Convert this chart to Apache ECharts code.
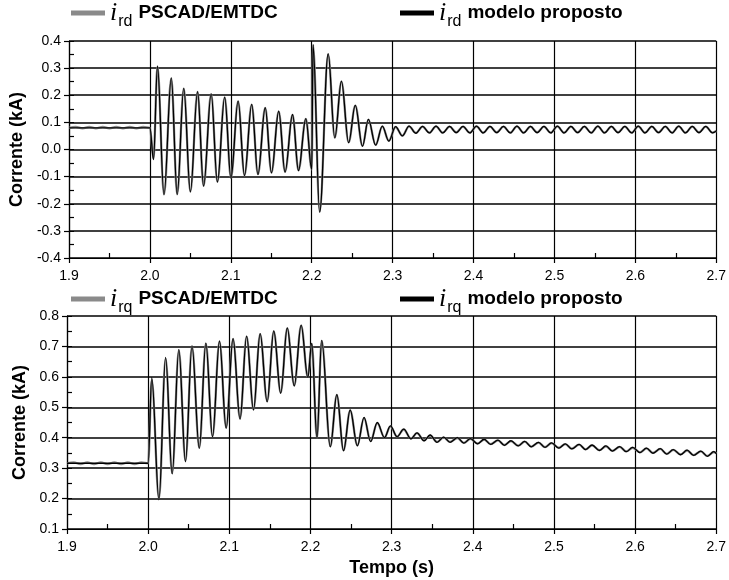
<!DOCTYPE html>
<html>
<head>
<meta charset="utf-8">
<script src="https://cdn.jsdelivr.net/npm/echarts@6/dist/echarts.min.js"></script>
<style>html,body{margin:0;padding:0;background:#fff}#c{width:729px;height:580px}</style>
</head>
<body>
<div id="c"></div>
<script>
// ---- axis ticks ----
const xTicks = [1.9, 2.0, 2.1, 2.2, 2.3, 2.4, 2.5, 2.6, 2.7];
const yTicksRd = [-0.4, -0.3, -0.2, -0.1, 0.0, 0.1, 0.2, 0.3, 0.4];
const yTicksRq = [0.1, 0.2, 0.3, 0.4, 0.5, 0.6, 0.7, 0.8];

// ---- pre-fault PSCAD ripple (time, s) ----
const tPre = [1.9, 1.9083, 1.9167, 1.925, 1.9333, 1.9417, 1.95, 1.9583, 1.9667, 1.975, 1.9833, 1.9917, 2.0];
const rdPscadPre = [0.080, 0.083, 0.078, 0.083, 0.078, 0.083, 0.078, 0.083, 0.078, 0.083, 0.078, 0.083, 0.080];
const rqPscadPre = [0.316, 0.319, 0.313, 0.319, 0.313, 0.319, 0.313, 0.319, 0.313, 0.319, 0.313, 0.319, 0.316];

// ---- i_rd (kA) : extremes ----
const tRd = [1.9, 2.0, 2.0044, 2.0093, 2.0174, 2.0264, 2.0337, 2.0418, 2.05, 2.0589, 2.0663, 2.0757, 2.0834, 2.0924,
  2.1001, 2.109, 2.1169, 2.1258, 2.1335, 2.1425, 2.1502, 2.1592, 2.167, 2.1763, 2.1836, 2.1927, 2.2, 2.2016,
  2.2098, 2.2203, 2.2285, 2.2367, 2.2456, 2.2538, 2.2627, 2.27, 2.279, 2.2872, 2.2953, 2.3036, 2.312, 2.3203,
  2.3286, 2.337, 2.3453, 2.3536, 2.362, 2.3703, 2.3786, 2.387, 2.3953, 2.4036, 2.412, 2.4203, 2.4286, 2.437,
  2.4453, 2.4536, 2.462, 2.4703, 2.4786, 2.487, 2.4953, 2.5036, 2.512, 2.5203, 2.5286, 2.537, 2.5453, 2.5536,
  2.562, 2.5703, 2.5786, 2.587, 2.5953, 2.6036, 2.612, 2.6203, 2.6286, 2.637, 2.6453, 2.6536, 2.662, 2.6703,
  2.6786, 2.687, 2.6953, 2.7];
const rdModelo = [0.080, 0.080, -0.037, 0.307, -0.166, 0.264, -0.166, 0.225, -0.156, 0.213, -0.135, 0.205, -0.120, 0.193,
  -0.105, 0.178, -0.096, 0.166, -0.092, 0.154, -0.086, 0.141, -0.083, 0.129, -0.078, 0.114, -0.074, 0.387,
  -0.231, 0.353, 0.043, 0.252, 0.025, 0.163, 0.012, 0.111, 0.016, 0.086, 0.031, 0.084, 0.050, 0.086,
  0.060, 0.085, 0.061, 0.086, 0.061, 0.085, 0.062, 0.085, 0.061, 0.086, 0.061, 0.085, 0.062, 0.085,
  0.061, 0.086, 0.061, 0.085, 0.062, 0.085, 0.061, 0.086, 0.061, 0.085, 0.062, 0.085, 0.061, 0.086,
  0.061, 0.085, 0.062, 0.085, 0.061, 0.086, 0.061, 0.085, 0.062, 0.085, 0.061, 0.086, 0.061, 0.085,
  0.062, 0.085, 0.061, 0.068];
const rdPscad = [0.080, 0.080, -0.034, 0.305, -0.165, 0.262, -0.165, 0.224, -0.155, 0.212, -0.134, 0.204, -0.119, 0.192,
  -0.104, 0.177, -0.095, 0.165, -0.091, 0.153, -0.085, 0.140, -0.082, 0.128, -0.077, 0.113, -0.073, 0.385,
  -0.229, 0.351, 0.044, 0.250, 0.026, 0.162, 0.013, 0.110, 0.017, 0.085, 0.032, 0.083, 0.051, 0.085,
  0.061, 0.084, 0.062, 0.085, 0.062, 0.084, 0.063, 0.084, 0.062, 0.085, 0.062, 0.084, 0.063, 0.084,
  0.062, 0.085, 0.062, 0.084, 0.063, 0.084, 0.062, 0.085, 0.062, 0.084, 0.063, 0.084, 0.062, 0.085,
  0.062, 0.084, 0.063, 0.084, 0.062, 0.085, 0.062, 0.084, 0.063, 0.084, 0.062, 0.085, 0.062, 0.084,
  0.063, 0.084, 0.062, 0.068];

// ---- i_rq (kA) : extremes ----
const tRq = [1.9, 2.0, 2.0044, 2.0133, 2.0215, 2.0296, 2.0378, 2.046, 2.054, 2.063, 2.0711, 2.0793, 2.0879, 2.0961,
  2.1046, 2.1132, 2.1213, 2.1298, 2.138, 2.1466, 2.1548, 2.1633, 2.1714, 2.18, 2.1885, 2.1967, 2.2016, 2.208,
  2.2138, 2.2244, 2.2325, 2.2407, 2.2489, 2.2578, 2.266, 2.2741, 2.2823, 2.2912, 2.2985, 2.3067, 2.3149, 2.3238,
  2.3312, 2.3401, 2.3474, 2.356, 2.364, 2.372, 2.381, 2.389, 2.397, 2.406, 2.414, 2.422, 2.431, 2.439,
  2.447, 2.456, 2.464, 2.472, 2.481, 2.489, 2.497, 2.506, 2.514, 2.522, 2.531, 2.539, 2.547, 2.556,
  2.564, 2.572, 2.581, 2.589, 2.597, 2.606, 2.614, 2.622, 2.631, 2.639, 2.647, 2.656, 2.664, 2.672,
  2.681, 2.689, 2.697, 2.7];
const rqModelo = [0.316, 0.316, 0.598, 0.196, 0.664, 0.281, 0.690, 0.321, 0.702, 0.365, 0.711, 0.403, 0.718, 0.431,
  0.726, 0.461, 0.734, 0.491, 0.742, 0.518, 0.751, 0.546, 0.761, 0.570, 0.770, 0.598, 0.710, 0.398,
  0.720, 0.370, 0.542, 0.357, 0.491, 0.373, 0.467, 0.387, 0.450, 0.400, 0.439, 0.403, 0.428, 0.396,
  0.416, 0.390, 0.409, 0.385, 0.402, 0.385, 0.400, 0.382, 0.397, 0.380, 0.395, 0.378, 0.392, 0.375,
  0.390, 0.373, 0.388, 0.370, 0.385, 0.368, 0.383, 0.366, 0.380, 0.363, 0.378, 0.361, 0.376, 0.358,
  0.373, 0.356, 0.371, 0.354, 0.368, 0.351, 0.366, 0.349, 0.364, 0.346, 0.361, 0.344, 0.359, 0.342,
  0.356, 0.339, 0.354, 0.348];
const rqPscad = [0.316, 0.316, 0.590, 0.200, 0.660, 0.284, 0.687, 0.324, 0.700, 0.367, 0.709, 0.405, 0.716, 0.433,
  0.724, 0.463, 0.732, 0.493, 0.740, 0.520, 0.749, 0.548, 0.759, 0.572, 0.768, 0.600, 0.708, 0.400,
  0.718, 0.372, 0.540, 0.359, 0.489, 0.375, 0.465, 0.389, 0.448, 0.401, 0.437, 0.404, 0.427, 0.397,
  0.415, 0.391, 0.408, 0.386, 0.401, 0.386, 0.399, 0.383, 0.396, 0.381, 0.394, 0.379, 0.391, 0.376,
  0.389, 0.374, 0.387, 0.371, 0.384, 0.369, 0.382, 0.367, 0.379, 0.364, 0.377, 0.362, 0.375, 0.359,
  0.372, 0.357, 0.370, 0.355, 0.367, 0.352, 0.365, 0.350, 0.363, 0.347, 0.360, 0.345, 0.358, 0.343,
  0.355, 0.340, 0.353, 0.348];

const pairs = (t, v) => t.map((x, i) => [x, v[i]]);
const pscadRd = pairs(tPre, rdPscadPre).concat(pairs(tRd.slice(2), rdPscad.slice(2)));
const pscadRq = pairs(tPre, rqPscadPre).concat(pairs(tRq.slice(2), rqPscad.slice(2)));

const FONT = '"Liberation Sans", Arial, sans-serif';
const GRAY = '#8a8a8a';
const grids = [
  { left: 67, width: 655, top: 41, height: 217 },
  { left: 67, width: 655, top: 316, height: 213 }
];

function mainX(g, showName) {
  return {
    type: 'value', gridIndex: g, min: xTicks[0], max: xTicks[xTicks.length - 1], interval: 0.1,
    position: 'bottom',
    name: showName ? 'Tempo (s)' : '', nameLocation: 'middle', nameGap: 30,
    nameTextStyle: { fontFamily: FONT, fontWeight: 'bold', fontSize: 18, color: '#000' },
    axisLine: { show: true, onZero: false, lineStyle: { color: '#000', width: 1.2 } },
    axisTick: { show: true, inside: false, length: 5, lineStyle: { color: '#000', width: 1.2 } },
    axisLabel: { show: true, margin: 11, fontFamily: FONT, fontSize: 14, color: '#000',
      formatter: v => v.toFixed(1) },
    splitLine: { show: true, lineStyle: { color: '#000', width: 1.2 } }
  };
}
function minorX(g) {
  return {
    type: 'value', gridIndex: g, min: xTicks[0], max: xTicks[xTicks.length - 1], interval: 0.1,
    position: 'bottom', offset: 0,
    axisLine: { show: false, onZero: false },
    axisTick: { show: true, inside: true, length: 5, lineStyle: { color: '#000' } },
    minorTick: { show: true, splitNumber: 2, length: 5, lineStyle: { color: '#000', width: 1.2 } },
    axisLabel: { show: false }, splitLine: { show: false }
  };
}
function mainY(g, ticks) {
  return {
    type: 'value', gridIndex: g, min: ticks[0], max: ticks[ticks.length - 1], interval: 0.1,
    position: 'left',
    name: 'Corrente (kA)', nameLocation: 'middle', nameGap: 34,
    nameTextStyle: { fontFamily: FONT, fontWeight: 'bold', fontSize: 18, color: '#000' },
    axisLine: { show: true, onZero: false, lineStyle: { color: '#000', width: 1.2 } },
    axisTick: { show: true, inside: false, length: 5, lineStyle: { color: '#000', width: 1.2 } },
    axisLabel: { show: true, margin: 8, fontFamily: FONT, fontSize: 14, color: '#000',
      formatter: v => v.toFixed(1) },
    splitLine: { show: true, lineStyle: { color: '#000', width: 1.5 } }
  };
}
function minorY(g, ticks) {
  return {
    type: 'value', gridIndex: g, min: ticks[0], max: ticks[ticks.length - 1], interval: 0.1,
    position: 'left', offset: 0,
    axisLine: { show: false, onZero: false },
    axisTick: { show: true, inside: true, length: 5, lineStyle: { color: '#000' } },
    minorTick: { show: true, splitNumber: 2, length: 5, lineStyle: { color: '#000', width: 1.2 } },
    axisLabel: { show: false }, splitLine: { show: false }
  };
}

const rich = {
  i: { fontFamily: '"Liberation Serif", "Times New Roman", serif', fontStyle: 'italic', fontSize: 26, color: '#000', padding: [0, 1, 0, 0] },
  s: { fontFamily: FONT, fontSize: 16, color: '#000', padding: [17, 0, 0, 0] },
  b: { fontFamily: FONT, fontWeight: 'bold', fontSize: 19, color: '#000', padding: [0, 0, 0, 6] }
};
function leg(name, left, top, sub, txt) {
  return {
    left: left, top: top, data: [name], icon: 'rect', itemWidth: 34, itemHeight: 5,
    selectedMode: false, padding: 0,
    formatter: () => '{i|i}{s|' + sub + '}{b|' + txt + '}',
    textStyle: { rich: rich }
  };
}
function line(name, xi, yi, data, color, width) {
  return {
    name: name, type: 'line', xAxisIndex: xi, yAxisIndex: yi, data: data,
    showSymbol: false, smooth: 0.36, smoothMonotone: 'x',
    lineStyle: { color: color, width: width }, itemStyle: { color: color },
    silent: true
  };
}

const chart = echarts.init(document.getElementById('c'), null, { renderer: 'canvas' });
chart.setOption({
  animation: false,
  backgroundColor: '#fff',
  grid: grids,
  xAxis: [mainX(0, false), minorX(0), mainX(1, true), minorX(1)],
  yAxis: [mainY(0, yTicksRd), minorY(0, yTicksRd), mainY(1, yTicksRq), minorY(1, yTicksRq)],
  legend: [
    leg('rdP', 71, 0, 'rd', 'PSCAD/EMTDC'),
    leg('rdM', 400, 0, 'rd', 'modelo proposto'),
    leg('rqP', 71, 286, 'rq', 'PSCAD/EMTDC'),
    leg('rqM', 400, 286, 'rq', 'modelo proposto')
  ],
  series: [
    line('rdP', 0, 0, pscadRd, GRAY, 2.3),
    line('rdM', 0, 0, pairs(tRd, rdModelo), '#000', 1.3),
    line('rqP', 2, 2, pscadRq, GRAY, 2.3),
    line('rqM', 2, 2, pairs(tRq, rqModelo), '#000', 1.3)
  ]
});
</script>
</body>
</html>
